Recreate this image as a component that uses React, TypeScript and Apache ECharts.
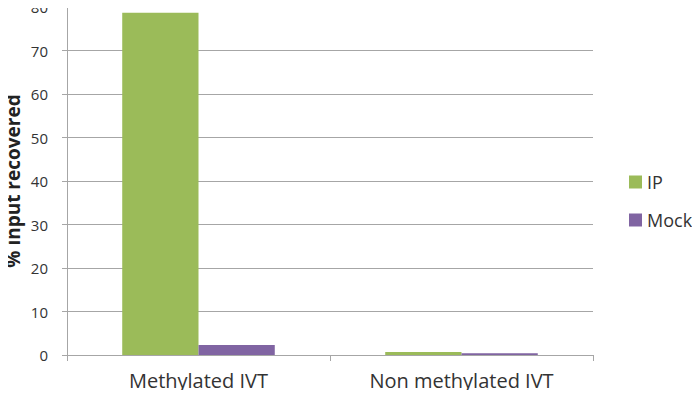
import React, { useEffect, useRef } from "react";
import * as echarts from "echarts";

const categories = ["Methylated IVT", "Non methylated IVT"];
const ipValues = [78.7, 0.7];
const mockValues = [2.3, 0.4];
const yMin = 0;
const yMax = 80;
const yInterval = 10;
const yAxisTitle = "% input recovered";

export default function App() {
  const ref = useRef<HTMLDivElement>(null);
  useEffect(() => {
    if (!ref.current) return;
    const chart = echarts.init(ref.current, null, { renderer: "svg" });
    const font = "Open Sans, Liberation Sans, sans-serif";
    chart.setOption({
      animation: false,
      backgroundColor: "#ffffff",
      textStyle: { fontFamily: font },
      grid: {
        left: 67,
        right: 107,
        top: 7,
        bottom: 43,
        containLabel: false,
        outerBoundsMode: "none",
      },
      graphic: [
        {
          type: "text",
          x: 13,
          y: 181,
          rotation: Math.PI / 2,
          style: {
            text: yAxisTitle,
            fontSize: 19,
            fontWeight: "bold",
            fill: "#222",
            fontFamily: font,
            align: "center",
            verticalAlign: "middle",
          },
        },
      ],
      legend: {
        orient: "vertical",
        left: 624,
        top: 168,
        itemWidth: 13,
        itemHeight: 13,
        itemGap: 20,
        icon: "rect",
        textStyle: { fontSize: 18, color: "#333", fontFamily: font },
        data: ["IP", "Mock"],
      },
      xAxis: {
        type: "category",
        data: categories,
        axisLine: { lineStyle: { color: "#a6a6a6", width: 1 } },
        axisTick: { show: true, alignWithLabel: false, length: 6, lineStyle: { color: "#a6a6a6" } },
        axisLabel: { fontSize: 20, color: "#333", margin: 15, fontFamily: font },
      },
      yAxis: {
        type: "value",
        min: yMin,
        max: yMax,
        interval: yInterval,
        axisLine: { show: true, lineStyle: { color: "#a6a6a6" } },
        axisTick: { show: true, length: 5, lineStyle: { color: "#a6a6a6" } },
        axisLabel: { fontSize: 15, color: "#333", margin: 19, fontFamily: font },
        splitLine: { lineStyle: { color: "#a6a6a6", width: 1 } },
      },
      series: [
        {
          name: "IP",
          type: "bar",
          data: ipValues,
          itemStyle: { color: "#9BBB59" },
          barGap: "0%",
          barCategoryGap: "42%",
        },
        {
          name: "Mock",
          type: "bar",
          data: mockValues,
          itemStyle: { color: "#8064A2" },
          barGap: "0%",
          barCategoryGap: "42%",
        },
      ],
    });
    return () => chart.dispose();
  }, []);
  return <div ref={ref} style={{ width: 700, height: 398, margin: -8 }} />;
}
